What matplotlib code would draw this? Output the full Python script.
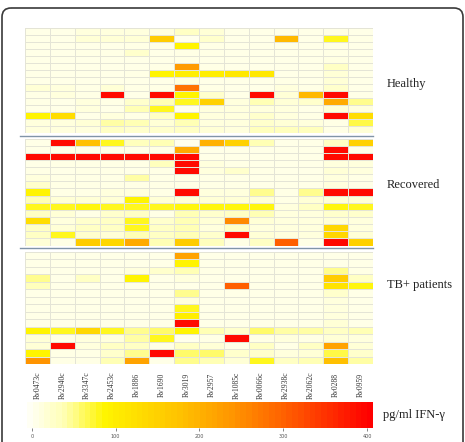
"""ifn_heatmap - IFN-gamma response heatmap by antigen and patient group"""

######################
# Import Libraries
######################

import numpy as np
import matplotlib
matplotlib.use("Agg")
import matplotlib.pyplot as plt
from matplotlib.colors import LinearSegmentedColormap
from matplotlib.patches import FancyBboxPatch


######################
# Globals
######################

antigens = ["Rv0473c", "Rv2940c", "Rv3347c", "Rv2453c", "Rv1886", "Rv1690",
            "Rv3019", "Rv2957", "Rv1085c", "Rv0066c", "Rv2938c", "Rv2062c",
            "Rv0288", "Rv0959"]

groups = ["Healthy", "Recovered", "TB+ patients"]

# pg/ml IFN-gamma, one row per subject
healthy = [
    [8, 8, 15, 15, 15, 15, 30, 20, 8, 8, 8, 8, 10, 8],
    [8, 8, 20, 20, 20, 160, 5, 25, 8, 8, 190, 8, 80, 10],
    [8, 8, 8, 8, 10, 10, 90, 10, 8, 8, 8, 8, 10, 8],
    [8, 8, 10, 10, 25, 8, 10, 10, 8, 8, 8, 8, 10, 8],
    [8, 8, 8, 8, 8, 8, 10, 8, 8, 8, 8, 8, 12, 8],
    [8, 8, 8, 8, 8, 10, 230, 10, 8, 8, 8, 8, 30, 8],
    [8, 8, 8, 8, 10, 90, 100, 100, 110, 110, 8, 8, 20, 8],
    [8, 8, 8, 8, 8, 8, 15, 8, 8, 8, 10, 8, 20, 8],
    [20, 15, 10, 20, 10, 10, 280, 10, 8, 8, 15, 10, 25, 8],
    [10, 15, 10, 390, 8, 390, 90, 25, 8, 390, 20, 190, 390, 8],
    [10, 8, 15, 10, 25, 40, 80, 150, 15, 40, 20, 25, 210, 50],
    [8, 8, 15, 8, 40, 80, 5, 15, 15, 15, 15, 8, 20, 15],
    [90, 130, 8, 15, 10, 30, 90, 15, 15, 25, 15, 10, 390, 130],
    [15, 15, 20, 45, 40, 20, 40, 15, 15, 25, 20, 15, 10, 70],
    [15, 15, 15, 30, 25, 25, 30, 20, 15, 35, 35, 35, 10, 20],
]

recovered = [
    [8, 390, 180, 80, 35, 40, 5, 200, 150, 40, 8, 8, 30, 150],
    [8, 8, 8, 8, 8, 10, 210, 8, 8, 8, 8, 8, 390, 8],
    [390, 390, 390, 390, 390, 390, 390, 8, 8, 8, 8, 8, 390, 390],
    [8, 10, 10, 10, 10, 35, 390, 15, 10, 8, 8, 8, 15, 15],
    [10, 8, 10, 10, 8, 10, 390, 15, 25, 10, 8, 8, 20, 15],
    [15, 10, 10, 10, 45, 10, 10, 10, 10, 8, 8, 8, 15, 10],
    [25, 10, 10, 10, 10, 10, 10, 10, 10, 8, 8, 8, 15, 8],
    [90, 10, 10, 15, 15, 10, 390, 15, 15, 50, 10, 50, 390, 390],
    [40, 20, 20, 20, 90, 20, 20, 20, 20, 20, 10, 20, 20, 20],
    [80, 80, 85, 80, 80, 80, 85, 85, 85, 85, 15, 30, 85, 80],
    [30, 20, 10, 25, 30, 10, 40, 25, 30, 40, 15, 15, 25, 25],
    [130, 15, 25, 30, 80, 25, 40, 20, 250, 20, 15, 15, 20, 15],
    [30, 20, 30, 30, 80, 30, 40, 15, 30, 15, 15, 15, 140, 15],
    [30, 80, 25, 20, 40, 30, 40, 25, 390, 20, 15, 15, 140, 20],
    [20, 10, 160, 140, 210, 40, 160, 35, 10, 30, 300, 10, 390, 150],
]

tb_patients = [
    [8, 8, 8, 8, 8, 8, 220, 8, 8, 8, 8, 8, 8, 8],
    [8, 8, 8, 8, 8, 8, 90, 8, 8, 8, 8, 8, 8, 8],
    [8, 8, 8, 8, 15, 25, 40, 10, 8, 8, 8, 8, 50, 10],
    [50, 8, 30, 8, 90, 8, 15, 8, 8, 8, 8, 8, 160, 30],
    [35, 8, 8, 8, 8, 8, 8, 8, 300, 8, 8, 8, 120, 85],
    [8, 8, 8, 8, 8, 8, 50, 8, 8, 8, 8, 8, 25, 8],
    [8, 8, 8, 8, 8, 8, 15, 8, 8, 8, 8, 8, 15, 8],
    [8, 8, 8, 8, 8, 8, 80, 8, 8, 8, 8, 8, 15, 8],
    [8, 8, 8, 8, 8, 8, 100, 8, 8, 8, 8, 8, 15, 8],
    [8, 8, 8, 8, 8, 8, 390, 8, 8, 8, 8, 8, 20, 8],
    [90, 80, 140, 80, 50, 60, 90, 40, 25, 60, 45, 45, 30, 40],
    [20, 10, 15, 15, 45, 80, 5, 10, 390, 10, 15, 10, 20, 15],
    [20, 390, 15, 30, 30, 10, 30, 20, 8, 30, 10, 30, 220, 20],
    [90, 10, 10, 25, 50, 390, 60, 60, 25, 25, 15, 20, 70, 25],
    [240, 10, 10, 40, 220, 8, 50, 40, 20, 80, 30, 40, 180, 45],
]

scale_ticks = [0, 100, 200, 300, 400]

W, H = 465, 442

cmap = LinearSegmentedColormap.from_list("ifn", [
    (0.00, "#FFFFF4"),
    (0.10, "#FFFFB4"),
    (0.22, "#FFF500"),
    (0.45, "#FFC000"),
    (0.60, "#FF9400"),
    (0.75, "#FF6000"),
    (1.00, "#FF0000"),
])

serif = ["Liberation Serif", "DejaVu Serif"]


######################
# Functions
######################

def px_axes(fig, x0, y0, x1, y1):
    """add axes given pixel box (top-left origin)"""
    return fig.add_axes([x0 / W, 1 - y1 / H, (x1 - x0) / W, (y1 - y0) / H])


def main():
    fig = plt.figure(figsize=(W / 100, H / 100), dpi=100)
    fig.patch.set_facecolor("white")

    # rounded frame around the figure
    bg = fig.add_axes([0, 0, 1, 1])
    bg.set_xlim(0, W)
    bg.set_ylim(H, 0)
    bg.axis("off")
    frame = FancyBboxPatch((2, 8), W - 4, H + 20, boxstyle="round,pad=0,rounding_size=9",
                           fc="none", ec="#3a3a3a", lw=1.2)
    bg.add_patch(frame)

    # group separators
    bg.plot([20, 373], [135.5, 135.5], c="#8194a8", lw=1.0)
    bg.plot([20, 373], [248, 248], c="#8194a8", lw=1.0)

    boxes = [(28, 133), (138.5, 245.5), (252, 364)]
    label_y = [84, 185, 285]
    blocks = [healthy, recovered, tb_patients]

    for data, (y0, y1), name, ly in zip(blocks, boxes, groups, label_y):
        ax = px_axes(fig, 25, y0, 373, y1)
        arr = np.array(data)
        ax.pcolormesh(arr, cmap=cmap, vmin=0, vmax=400,
                      edgecolors="#e4e4d6", linewidth=0.5)
        ax.set_xlim(0, arr.shape[1])
        ax.set_ylim(arr.shape[0], 0)
        ax.axis("off")
        bg.text(387, ly, name, family=serif, fontsize=9, color="#222222",
                ha="left", va="center")

    # antigen labels
    for i, name in enumerate(antigens):
        xc = 25 + (i + 0.5) * (348 / len(antigens))
        bg.text(xc, 385, name, family=serif, fontsize=5.5, color="#333333",
                rotation=90, ha="center", va="center")

    # colour scale
    cax = px_axes(fig, 27, 402, 372, 428)
    grad = np.linspace(0, 400, 60).reshape(1, -1)
    cax.imshow(grad, cmap=cmap, vmin=0, vmax=400, aspect="auto",
               extent=(-5.6, 406, 0, 1))
    cax.set_xlim(-5.6, 406)
    cax.set_yticks([])
    cax.set_xticks(scale_ticks)
    cax.set_xticklabels([str(t) for t in scale_ticks])
    cax.tick_params(axis="x", length=2, width=0.5, pad=2, labelsize=3.5,
                    colors="#555555")
    for s in cax.spines.values():
        s.set_visible(False)

    bg.text(383, 415, "pg/ml IFN-\u03b3", family=serif, fontsize=9,
            color="#222222", ha="left", va="center")

    plt.savefig("out.png", dpi=100)


######################
# Main
######################

if __name__ == "__main__":
    main()
